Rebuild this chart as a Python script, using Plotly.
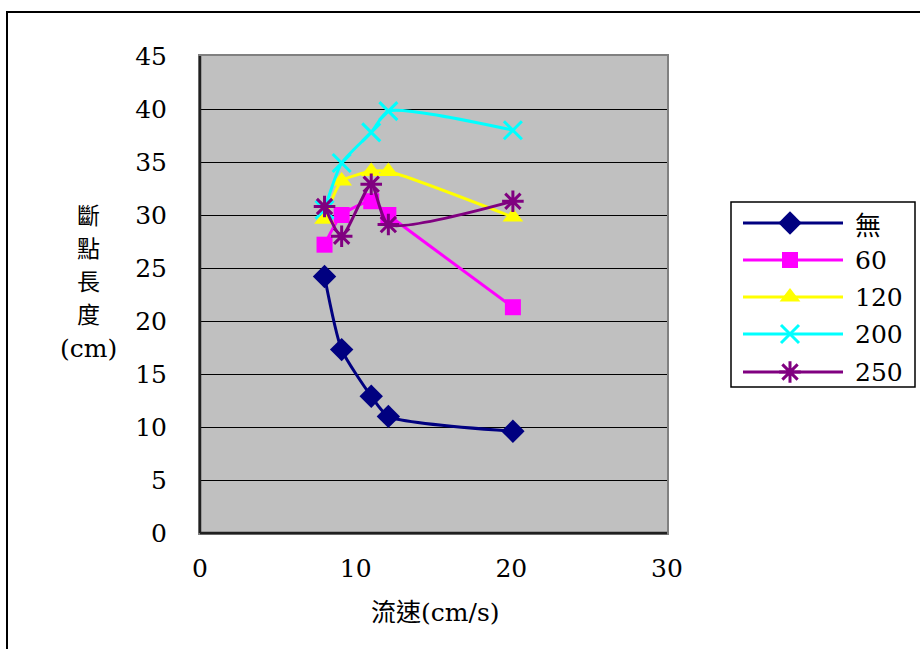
import plotly.graph_objects as go

# ---- data ----
flow_speed = [8.0, 9.1, 11.0, 12.1, 20.1]
series_names = ["無", "60", "120", "200", "250"]
y_none = [24.2, 17.3, 12.9, 11.0, 9.6]
y_60 = [27.2, 30.0, 31.3, 30.0, 21.3]
y_120 = [29.6, 33.2, 34.1, 34.1, 29.8]
y_200 = [30.5, 34.9, 37.8, 39.8, 38.0]
y_250 = [30.8, 28.0, 32.9, 29.1, 31.3]
x_ticks = [0, 10, 20, 30]
y_ticks = [0, 5, 10, 15, 20, 25, 30, 35, 40, 45]

series_values = [y_none, y_60, y_120, y_200, y_250]

# ---- styles ----
W, H = 920, 649
colors = ["#000080", "#FF00FF", "#FFFF00", "#00FFFF", "#800080"]
symbols = ["diamond", "square", "triangle-up", "x-thin-open", "asterisk-open"]
sizes = [18, 16, 18, 18, 18]
SERIF = "DejaVu Serif"
CJK = "Noto Sans CJK TC"
NUM_SIZE = 25

def px_x(p):
    return p / W

def px_y(p):
    return 1 - p / H

plot_l, plot_r, plot_t, plot_b = 200, 667, 56, 533
leg_l, leg_r, leg_t, leg_b = 731, 915, 202, 387

fig = go.Figure()

for name, ys, c, s, sz in zip(series_names, series_values, colors, symbols, sizes):
    open_sym = s.endswith("-open")
    fig.add_trace(go.Scatter(
        x=flow_speed, y=ys, name=name, mode="lines+markers",
        line=dict(color=c, width=3, shape="spline", smoothing=0.6),
        marker=dict(symbol=s, size=sz, color=c,
                    line=dict(color=c, width=3 if open_sym else 0)),
        showlegend=False, xaxis="x", yaxis="y", cliponaxis=False,
    ))

# ---- manual legend drawn on a hidden pixel-space axis ----
leg_rows = [223, 260, 297, 334, 372]
line_x0, line_x1, mark_x, text_x = 743, 843, 790, 853
for name, c, s, sz, ry in zip(series_names, colors, symbols, sizes, leg_rows):
    open_sym = s.endswith("-open")
    fig.add_trace(go.Scatter(
        x=[line_x0, line_x1], y=[ry, ry], mode="lines",
        line=dict(color=c, width=3), showlegend=False,
        xaxis="x2", yaxis="y2", hoverinfo="skip"))
    fig.add_trace(go.Scatter(
        x=[mark_x], y=[ry], mode="markers",
        marker=dict(symbol=s, size=sz, color=c,
                    line=dict(color=c, width=3 if open_sym else 0)),
        showlegend=False, xaxis="x2", yaxis="y2", hoverinfo="skip"))

annotations = []
for name, ry in zip(series_names, leg_rows):
    annotations.append(dict(
        x=text_x, y=ry, xref="x2", yref="y2", text=name, showarrow=False,
        xanchor="left", yanchor="middle",
        font=dict(family=CJK if name == "無" else SERIF,
                  size=26 if name == "無" else NUM_SIZE, color="black")))

# y-axis title, one character per line
ytitle_lines = ["斷", "點", "長", "度", "(cm)"]
ytitle_rows = [214, 247, 280, 313, 348]
for t, ry in zip(ytitle_lines, ytitle_rows):
    annotations.append(dict(
        x=px_x(88), y=px_y(ry), xref="paper", yref="paper", text=t,
        showarrow=False, xanchor="center", yanchor="middle",
        font=dict(family=CJK if len(t) == 1 else SERIF,
                  size=23 if len(t) == 1 else NUM_SIZE, color="black")))

xtitle = ("<span style=\"font-family:'Noto Sans CJK TC'\">流速</span>"
          "(cm/s)")
annotations.append(dict(
    x=px_x(435), y=px_y(610), xref="paper", yref="paper", text=xtitle,
    showarrow=False, xanchor="center", yanchor="middle",
    font=dict(family=SERIF, size=NUM_SIZE, color="black")))

shapes = [
    dict(type="rect", xref="paper", yref="paper",
         x0=px_x(7), x1=px_x(930), y0=px_y(660), y1=px_y(12),
         line=dict(color="black", width=2), layer="below"),
    dict(type="rect", xref="paper", yref="paper",
         x0=px_x(leg_l), x1=px_x(leg_r), y0=px_y(leg_b), y1=px_y(leg_t),
         line=dict(color="black", width=1.5), fillcolor="white", layer="below"),
    dict(type="line", xref="paper", yref="paper",
         x0=px_x(plot_l), x1=px_x(plot_l), y0=px_y(plot_b), y1=px_y(plot_t),
         line=dict(color="#202020", width=2.5), layer="above"),
    dict(type="line", xref="paper", yref="paper",
         x0=px_x(plot_l), x1=px_x(plot_r), y0=px_y(plot_b), y1=px_y(plot_b),
         line=dict(color="#202020", width=2.5), layer="above"),
]

fig.update_layout(
    width=W, height=H,
    margin=dict(l=0, r=0, t=0, b=0),
    paper_bgcolor="white",
    plot_bgcolor="#C0C0C0",
    showlegend=False,
    font=dict(family=SERIF, size=NUM_SIZE, color="black"),
    xaxis=dict(
        domain=[px_x(plot_l), px_x(plot_r)], range=[0, 30],
        tickvals=x_ticks, ticktext=[str(v) for v in x_ticks],
        showgrid=False, zeroline=False, ticks="",
        showline=True, linecolor="#808080", linewidth=2, mirror=True,
        ticklabelstandoff=12, automargin=False,
        tickfont=dict(family=SERIF, size=NUM_SIZE, color="black"),
        anchor="y",
    ),
    yaxis=dict(
        domain=[px_y(plot_b), px_y(plot_t)], range=[0, 45],
        tickvals=y_ticks, ticktext=[str(v) for v in y_ticks],
        showgrid=True, gridcolor="black", gridwidth=1, zeroline=False, ticks="",
        showline=True, linecolor="#808080", linewidth=2, mirror=True,
        ticklabelstandoff=26, automargin=False,
        tickfont=dict(family=SERIF, size=NUM_SIZE, color="black"),
        anchor="x",
    ),
    xaxis2=dict(domain=[px_x(leg_l), px_x(leg_r)], range=[leg_l, leg_r],
                visible=False, fixedrange=True, anchor="y2"),
    yaxis2=dict(domain=[px_y(leg_b), px_y(leg_t)], range=[leg_b, leg_t],
                visible=False, fixedrange=True, anchor="x2"),
    annotations=annotations,
    shapes=shapes,
)

fig.write_html("out.html")
